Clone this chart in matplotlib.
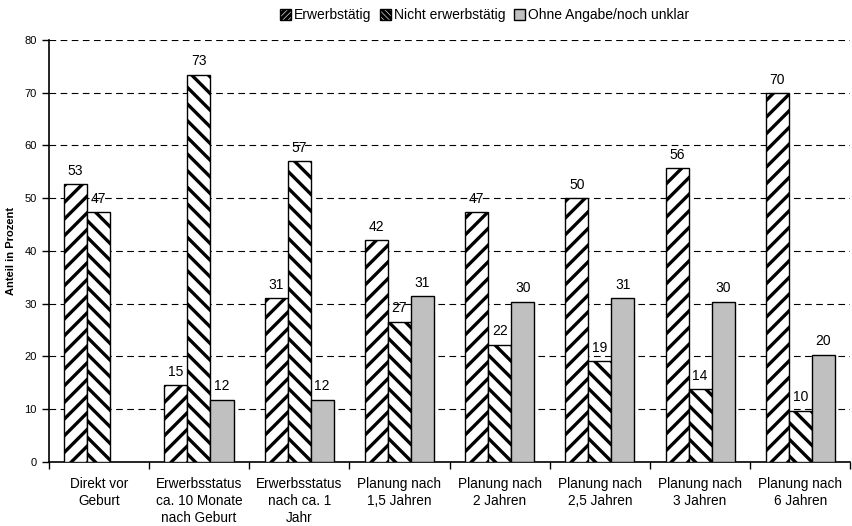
import numpy as np
import matplotlib.pyplot as plt
from matplotlib.patches import Patch

plt.rcParams['font.family'] = ['Liberation Sans', 'DejaVu Sans']
plt.rcParams['hatch.linewidth'] = 2.4

categories = ['Direkt vor\nGeburt', 'Erwerbsstatus\nca. 10 Monate\nnach Geburt',
              'Erwerbsstatus\nnach ca. 1\nJahr', 'Planung nach\n1,5 Jahren',
              'Planung nach\n2 Jahren', 'Planung nach\n2,5 Jahren',
              'Planung nach\n3 Jahren', 'Planung nach\n6 Jahren']
erwerbstaetig = [52.6, 14.6, 31.1, 42.1, 47.4, 50.0, 55.7, 69.9]
nicht_erwerbstaetig = [47.3, 73.4, 57.0, 26.6, 22.2, 19.1, 13.8, 9.7]
ohne_angabe = [None, 11.8, 11.8, 31.4, 30.4, 31.0, 30.4, 20.3]


def lbl(v):
    return str(int(v + 0.5))


fig = plt.figure(figsize=(8.53, 5.26), dpi=100)
ax = fig.add_axes([0.057, 0.122, 0.94, 0.802])

x = np.arange(len(categories))
w = 0.23

ax.bar(x - w, erwerbstaetig, w, facecolor='white', edgecolor='black',
       hatch='//', linewidth=1, zorder=3)
ax.bar(x, nicht_erwerbstaetig, w, facecolor='white', edgecolor='black',
       hatch='\\\\', linewidth=1, zorder=3)
oa_x = [xi + w for xi, v in zip(x, ohne_angabe) if v is not None]
oa_v = [v for v in ohne_angabe if v is not None]
ax.bar(oa_x, oa_v, w, facecolor='#c0c0c0', edgecolor='black', linewidth=1, zorder=3)

for xi, v in zip(x, erwerbstaetig):
    ax.text(xi - w, v + 1.2, lbl(v), ha='center', va='bottom', fontsize=10)
for xi, v in zip(x, nicht_erwerbstaetig):
    ax.text(xi, v + 1.2, lbl(v), ha='center', va='bottom', fontsize=10)
for xi, v in zip(oa_x, oa_v):
    ax.text(xi, v + 1.2, lbl(v), ha='center', va='bottom', fontsize=10)

ax.set_xlim(-0.5, len(categories) - 0.5)
ax.set_ylim(0, 80)
ax.set_yticks(range(0, 81, 10))
ax.tick_params(axis='y', labelsize=8, length=5, width=1, direction='out')
ax.set_xticks(x)
ax.set_xticklabels(categories, fontsize=9.8, linespacing=1.25)
ax.tick_params(axis='x', which='major', length=0, pad=11)
ax.set_xticks(np.arange(-0.5, len(categories), 1), minor=True)
ax.tick_params(axis='x', which='minor', length=5, width=1, direction='out')

ax.yaxis.grid(True, linestyle=(0, (6, 4)), color='black', linewidth=0.8, zorder=0)
ax.set_axisbelow(True)
for s in ['top', 'right']:
    ax.spines[s].set_visible(False)
ax.spines['left'].set_linewidth(1.2)
ax.spines['bottom'].set_linewidth(1.2)

ax.set_ylabel('Anteil in Prozent', fontsize=8, fontweight='bold', labelpad=6)

handles = [Patch(facecolor='white', edgecolor='black', hatch='//////', label='Erwerbstätig'),
           Patch(facecolor='white', edgecolor='black', hatch='\\\\\\\\\\\\', label='Nicht erwerbstätig'),
           Patch(facecolor='#c0c0c0', edgecolor='black', label='Ohne Angabe/noch unklar')]
fig.legend(handles=handles, loc='upper center', bbox_to_anchor=(0.568, 1.008), ncol=3,
           frameon=False, fontsize=10, handlelength=0.8, handleheight=0.8,
           handletextpad=0.2, columnspacing=0.6)

fig.savefig('out.png', dpi=100)
